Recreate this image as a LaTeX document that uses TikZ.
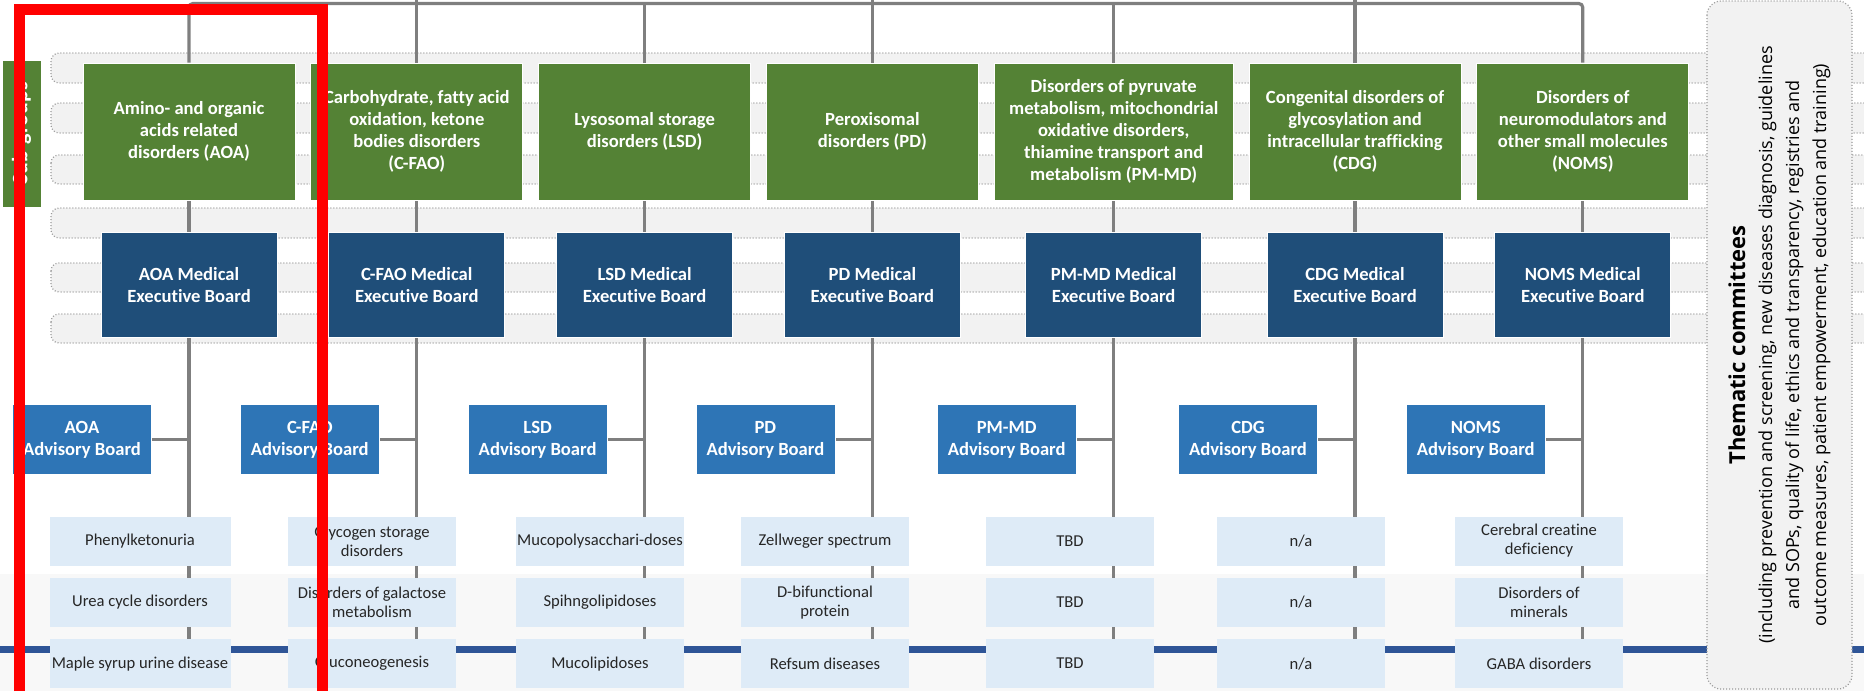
\documentclass[tikz,border=0pt]{standalone}
\usepackage{fontspec}
\setmainfont{Carlito}[Ligatures=NoCommon]
\newfontfamily\thematicfont{Open Sans}
\usepackage{tikz}
\usetikzlibrary{positioning}
\usetikzlibrary{backgrounds}
\usetikzlibrary{calc}
\definecolor{groupgreen}{HTML}{548235}
\definecolor{execblue}{HTML}{1F4E79}
\definecolor{advblue}{HTML}{2E75B6}
\definecolor{diseaseblue}{HTML}{DEEBF7}
\definecolor{bandgray}{HTML}{F2F2F2}
\definecolor{bordergray}{HTML}{999999}
\definecolor{linegray}{HTML}{7F7F7F}
\definecolor{mainblue}{HTML}{2F5597}
\definecolor{bottomgray}{HTML}{F8F8F8}
\definecolor{textdark}{HTML}{262626}
\tikzstyle{connector} = [draw, color=linegray, line width=1.6pt]

\begin{document}
\begin{tikzpicture}[x=0.5pt, y=-0.5pt,
				group/.style={fill=groupgreen, draw=white, line width=0.4pt, text=white, inner sep=1pt,
					font=\bfseries\fontsize{9.3}{11}\selectfont, minimum width=106pt, minimum height=68.5pt},
				exec/.style={fill=execblue, draw=white, line width=0.4pt, text=white, inner sep=1pt,
					font=\bfseries\fontsize{9.3}{11}\selectfont, minimum width=88pt, minimum height=52.5pt},
				advisory/.style={fill=advblue, draw=white, line width=0.4pt, text=white, inner sep=1pt,
					font=\bfseries\fontsize{9.3}{11}\selectfont, minimum width=69.5pt, minimum height=35pt},
				disease/.style={fill=diseaseblue, text=textdark, inner sep=0.5pt,
					font=\fontsize{8.3}{9.5}\selectfont, minimum width=84pt, minimum height=24.5pt},
				band/.style={draw=bordergray, fill=bandgray, line width=0.6pt, dash pattern=on 0.5pt off 1pt, rounded corners=4pt},
				thematic/.style={draw=bordergray, fill=bandgray, line width=0.6pt, dash pattern=on 0.5pt off 1pt, rounded corners=7pt,
					inner sep=1pt, minimum width=344pt, minimum height=72.5pt, font=\thematicfont\fontsize{9}{13.5}\selectfont},
				every text node part/.style={align=center}]
				\useasboundingbox (0,0) rectangle (1864,691);
				\coordinate (topedge) at (0,0);
				\coordinate (toplevel) at (0,3.5);
				
				% sub-groups
				\node[group, rotate=90, minimum width=73.5pt, minimum height=19.5pt, inner sep=0pt, font=\bfseries\fontsize{11}{13}\selectfont](node0) at (21.5, 133.5) {Sub-groups};
				\node[group](node1) at (189, 131.5) {Amino- and organic\\acids related\\disorders (AOA)};
				\node[group, right=7.5pt of node1](node2) {Carbohydrate, fatty acid\\oxidation, ketone\\bodies disorders\\(C-FAO)};
				\node[group, right=7.5pt of node2](node3) {Lysosomal storage\\disorders (LSD)};
				\node[group, right=7.5pt of node3](node4) {Peroxisomal\\disorders (PD)};
				\node[group, right=7.5pt of node4, minimum width=119.5pt](node5) {Disorders of pyruvate\\metabolism, mitochondrial\\oxidative disorders,\\thiamine transport and\\metabolism (PM-MD)};
				\node[group, right=7.5pt of node5](node6) {Congenital disorders of\\glycosylation and\\intracellular trafficking\\(CDG)};
				\node[group, right=7.5pt of node6](node7) {Disorders of\\neuromodulators and\\other small molecules\\(NOMS)};
				
				% medical executive boards
				\node[exec, below=16pt of node1](node11) {AOA Medical\\Executive Board};
				\node[exec, below=16pt of node2](node21) {C-FAO Medical\\Executive Board};
				\node[exec, below=16pt of node3](node31) {LSD Medical\\Executive Board};
				\node[exec, below=16pt of node4](node41) {PD Medical\\Executive Board};
				\node[exec, below=16pt of node5](node51) {PM-MD Medical\\Executive Board};
				\node[exec, below=16pt of node6](node61) {CDG Medical\\Executive Board};
				\node[exec, below=16pt of node7](node71) {NOMS Medical\\Executive Board};
				
				% advisory boards
				\node[advisory, below=33pt of node11, xshift=-53.5pt](node12) {AOA\\Advisory Board};
				\node[advisory, below=33pt of node21, xshift=-53.5pt](node22) {C-FAO\\Advisory Board};
				\node[advisory, below=33pt of node31, xshift=-53.5pt](node32) {LSD\\Advisory Board};
				\node[advisory, below=33pt of node41, xshift=-53.5pt](node42) {PD\\Advisory Board};
				\node[advisory, below=33pt of node51, xshift=-53.5pt](node52) {PM-MD\\Advisory Board};
				\node[advisory, below=33pt of node61, xshift=-53.5pt](node62) {CDG\\Advisory Board};
				\node[advisory, below=33pt of node71, xshift=-53.5pt](node72) {NOMS\\Advisory Board};
				
				% diseases
				\node[disease, minimum width=90.5pt](node13) at (140, 541) {Phenylketonuria};
				\node[disease, minimum width=90.5pt, below=5.75pt of node13](node14) {Urea cycle disorders};
				\node[disease, minimum width=90.5pt, below=5.75pt of node14](node15) {Maple syrup urine disease};
				\node[disease](node23) at (372, 541) {Glycogen storage\\disorders};
				\node[disease, below=5.75pt of node23](node24) {Disorders of galactose\\metabolism};
				\node[disease, below=5.75pt of node24](node25) {Gluconeogenesis};
				\node[disease](node33) at (600, 541) {Mucopolysacchari-doses};
				\node[disease, below=5.75pt of node33](node34) {Spihngolipidoses};
				\node[disease, below=5.75pt of node34](node35) {Mucolipidoses};
				\node[disease](node43) at (825, 541) {Zellweger spectrum};
				\node[disease, below=5.75pt of node43](node44) {D-bifunctional\\protein};
				\node[disease, below=5.75pt of node44](node45) {Refsum diseases};
				\node[disease](node53) at (1070, 541) {TBD};
				\node[disease, below=5.75pt of node53](node54) {TBD};
				\node[disease, below=5.75pt of node54](node55) {TBD};
				\node[disease](node63) at (1301, 541) {n/a};
				\node[disease, below=5.75pt of node63](node64) {n/a};
				\node[disease, below=5.75pt of node64](node65) {n/a};
				\node[disease](node73) at (1539, 541) {Cerebral creatine\\deficiency};
				\node[disease, below=5.75pt of node73](node74) {Disorders of\\minerals};
				\node[disease, below=5.75pt of node74](node75) {GABA disorders};
				
				% thematic committees
				\node[thematic, rotate=90](node8) at (1779.5, 345) {{\bfseries\fontsize{11}{14}\selectfont Thematic committees}\\(including prevention and screening, new diseases diagnosis, guidelines\\and SOPs, quality of life, ethics and transparency, registries and\\outcome measures, patient empowerment, education and training)};
				
				\begin{pgfonlayer}{background}
					\fill[bottomgray] (0,574) rectangle (1864,691);
					\draw[band] (51,53) rectangle (1900,83);
					\draw[band] (51,103) rectangle (1900,133);
					\draw[band] (51,155) rectangle (1900,184);
					\draw[band] (51,208) rectangle (1900,238);
					\draw[band] (51,263) rectangle (1900,292);
					\draw[band] (51,314) rectangle (1900,343);
					\draw[mainblue, line width=3.5pt] (0,649.5) -- (1864,649.5);
					
					\draw[connector, rounded corners=2pt] (node1.north) |- (toplevel -| node7.north) -- (node7.north);
					\draw[connector] (node2.north) -- (node2.north |- topedge);
					\draw[connector] (node3.north) -- (node3.north |- toplevel);
					\draw[connector] (node4.north) -- (node4.north |- topedge);
					\draw[connector] (node5.north) -- (node5.north |- toplevel);
					\draw[connector] (node6.north) -- (node6.north |- topedge);
					
					\draw[connector] (node1) -- (node11);
					\draw[connector] (node2) -- (node21);
					\draw[connector] (node3) -- (node31);
					\draw[connector] (node4) -- (node41);
					\draw[connector] (node5) -- (node51);
					\draw[connector] (node6) -- (node61);
					\draw[connector] (node7) -- (node71);
					
					\draw[connector] (node11) -- (node11 |- node15);
					\draw[connector] (node21) -- (node21 |- node25);
					\draw[connector] (node31) -- (node31 |- node35);
					\draw[connector] (node41) -- (node41 |- node45);
					\draw[connector] (node51) -- (node51 |- node55);
					\draw[connector] (node61) -- (node61 |- node65);
					\draw[connector] (node71) -- (node71 |- node75);
					
					\draw[connector] (node12) -- (node12 -| node11);
					\draw[connector] (node22) -- (node22 -| node21);
					\draw[connector] (node32) -- (node32 -| node31);
					\draw[connector] (node42) -- (node42 -| node41);
					\draw[connector] (node52) -- (node52 -| node51);
					\draw[connector] (node62) -- (node62 -| node61);
					\draw[connector] (node72) -- (node72 -| node71);
				\end{pgfonlayer}
				
				% highlight
				\draw[red, line width=5.5pt] (19,691) -- (19,9.5) -- (322,9.5) -- (322,691);
			\end{tikzpicture}
\end{document}
